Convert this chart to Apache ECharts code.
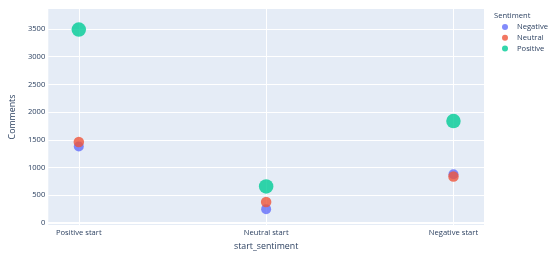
<!DOCTYPE html>
<html>
<head>
<meta charset="utf-8">
<script src="https://cdn.jsdelivr.net/npm/echarts@6/dist/echarts.min.js"></script>
<style>html,body{margin:0;padding:0;background:#fff}#c{width:550px;height:256px}</style>
</head>
<body>
<div id="c"></div>
<script>
const categories = ['Positive start', 'Neutral start', 'Negative start'];
const seriesNames = ['Negative', 'Neutral', 'Positive'];
const negativeValues = [1380, 250, 880];
const neutralValues = [1460, 380, 840];
const positiveValues = [3490, 660, 1840];
const yTicks = [0, 500, 1000, 1500, 2000, 2500, 3000, 3500];
const xTicks = [0, 1, 2];

const FONT = '"Open Sans", "Liberation Sans", sans-serif';
const TXT = '#2a3f5f';
const colors = ['#636efa', '#EF553B', '#00cc96'];
const sizes = [10, 10.5, 14.5];
const values = [negativeValues, neutralValues, positiveValues];

const chart = echarts.init(document.getElementById('c'), null, {renderer: 'canvas'});
chart.setOption({
  animation: false,
  textStyle: {fontFamily: FONT, color: TXT},
  grid: {left: 46, right: 66, top: 9, bottom: 31, show: true, backgroundColor: '#E5ECF6', borderWidth: 0, containLabel: false},
  graphic: [{type: 'text', left: 494, top: 12, style: {text: 'Sentiment', font: '7.6px "Open Sans", sans-serif', fill: TXT}}],
  legend: {
    orient: 'vertical', left: 497, top: 17, itemWidth: 14, itemHeight: 6, itemGap: 0.7,
    icon: 'circle', data: seriesNames,
    textStyle: {fontFamily: FONT, fontSize: 7.6, color: TXT, lineHeight: 10}
  },
  xAxis: {
    type: 'value', min: -0.163, max: 2.163,
    name: 'start_sentiment', nameLocation: 'middle', nameGap: 16,
    nameTextStyle: {fontFamily: FONT, fontSize: 8.8, color: TXT},
    axisLine: {show: true, onZero: true, lineStyle: {color: '#ffffff', width: 2}},
    axisTick: {show: false, customValues: xTicks},
    axisLabel: {customValues: xTicks, formatter: v => categories[Math.round(v)], fontSize: 7.6, color: TXT, margin: 4, fontFamily: FONT},
    splitLine: {show: true, lineStyle: {color: '#ffffff', width: 1}}
  },
  yAxis: {
    type: 'value', min: -36, max: 3861,
    name: 'Comments', nameLocation: 'middle', nameGap: 30,
    nameTextStyle: {fontFamily: FONT, fontSize: 8.8, color: TXT},
    axisLine: {show: false},
    axisTick: {show: false, customValues: yTicks},
    axisLabel: {customValues: yTicks, formatter: v => String(Math.round(v)), fontSize: 7.6, color: TXT, margin: 3, fontFamily: FONT},
    splitLine: {show: true, lineStyle: {color: '#ffffff', width: 1}}
  },
  series: seriesNames.map((n, k) => ({
    name: n, type: 'scatter', symbol: 'circle', symbolSize: sizes[k],
    itemStyle: {color: colors[k], opacity: 0.8},
    data: values[k].map((v, i) => [i, v]),
    z: 2 + k
  }))
});
</script>
</body>
</html>
